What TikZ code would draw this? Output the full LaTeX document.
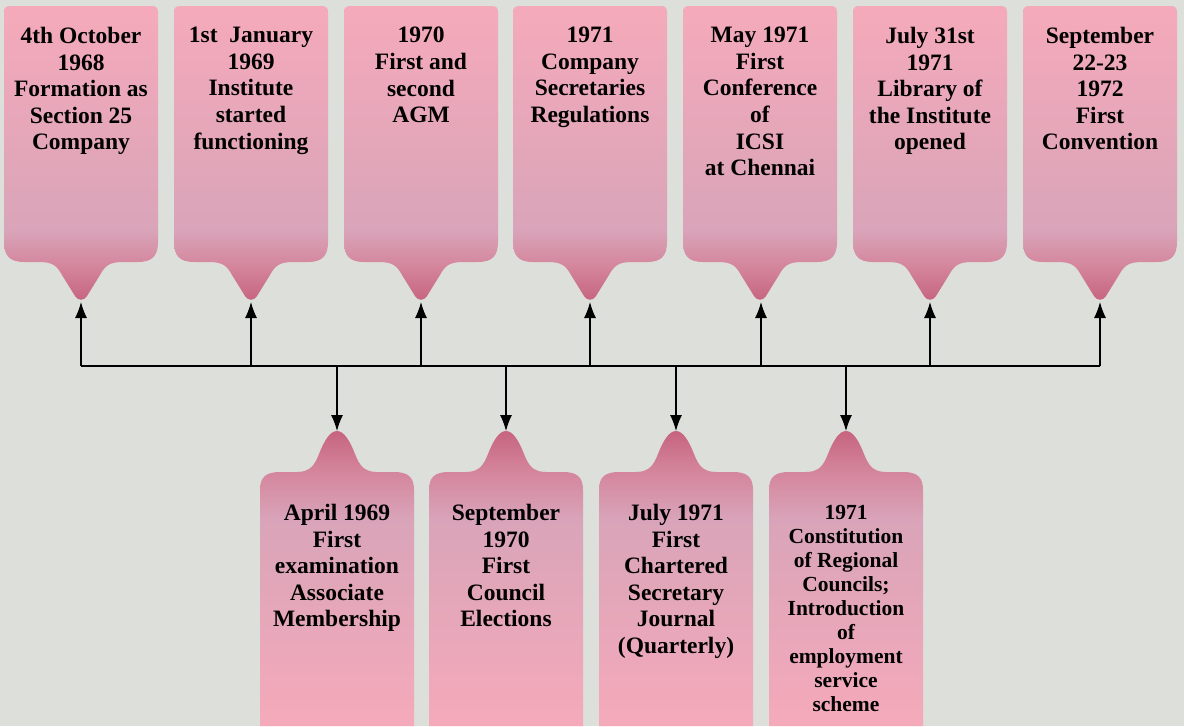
\documentclass[tikz,border=0pt]{standalone}
\usepackage{fontspec}
\setmainfont{Liberation Serif}
\usetikzlibrary{arrows.meta}

\definecolor{paper}{RGB}{220,223,218}
\definecolor{pinktop}{RGB}{245,170,186}
\definecolor{mauve}{RGB}{217,164,185}
\definecolor{rosemid}{RGB}{212,134,157}
\definecolor{tipdark}{RGB}{199,100,127}

\pgfdeclareverticalshading{topgrad}{100bp}{color(0bp)=(tipdark); color(25bp)=(tipdark); color(31bp)=(rosemid); color(37bp)=(mauve); color(75bp)=(pinktop); color(100bp)=(pinktop)}
\pgfdeclareverticalshading{botgrad}{100bp}{color(0bp)=(pinktop); color(25bp)=(pinktop); color(60bp)=(mauve); color(68bp)=(rosemid); color(75bp)=(tipdark); color(100bp)=(tipdark)}

\tikzset{
  topcallout/.style={shading=topgrad, insert path={
    (-71,6) -- (71,6) .. controls (75,6) and (77,8) .. (77,12) -- (77,242)
    .. controls (77,256) and (71,262) .. (57,262) -- (42,262)
    .. controls (28,262) and (24,266) .. (19,275) -- (6,296)
    .. controls (3,301) and (-3,301) .. (-6,296) -- (-19,275)
    .. controls (-24,266) and (-28,262) .. (-42,262)
    -- (-57,262) .. controls (-71,262) and (-77,256) .. (-77,242) -- (-77,12)
    .. controls (-77,8) and (-75,6) .. (-71,6) -- cycle}},
  botcallout/.style={shading=botgrad, insert path={
    (-77,726) -- (-77,490) .. controls (-77,477) and (-71,472) .. (-57,472) -- (-40,472)
    .. controls (-26,472) and (-22,464) .. (-18,454)
    .. controls (-13,441) and (-7,431) .. (0,431)
    .. controls (7,431) and (13,441) .. (18,454)
    .. controls (22,464) and (26,472) .. (40,472)
    -- (57,472) .. controls (71,472) and (77,477) .. (77,490) -- (77,726) -- cycle}},
  evtext/.style={anchor=north, align=center, inner sep=0pt,
    font=\fontsize{23.5}{26.6}\selectfont\bfseries},
  link/.style={line width=1.2pt},
  arr/.style={line width=1.2pt, -{Latex[length=16pt,width=12pt]}}
}

\begin{document}
\begin{tikzpicture}[x=1pt,y=-1pt]
\fill[paper] (0,0) rectangle (1184,726);
\useasboundingbox (0,0) rectangle (1184,726);

% top row
\shade[shift={(81,0)},topcallout];
\shade[shift={(251,0)},topcallout];
\shade[shift={(421,0)},topcallout];
\shade[shift={(590,0)},topcallout];
\shade[shift={(760,0)},topcallout];
\shade[shift={(930,0)},topcallout];
\shade[shift={(1100,0)},topcallout];

\node[evtext] (top1) at (81,27) {4th October\\1968\\Formation as\\Section 25\\Company};
\node[evtext] (top2) at (251,27) {1st~ January\\1969\\Institute\\started\\functioning};
\node[evtext] (top3) at (421,27) {1970\\First and\\second\\AGM};
\node[evtext] (top4) at (590,27) {1971\\Company\\Secretaries\\Regulations};
\node[evtext] (top5) at (760,27) {May 1971\\First\\Conference\\of\\ICSI\\at Chennai};
\node[evtext] (top6) at (930,27) {July 31st\\1971\\Library of\\the Institute\\opened};
\node[evtext] (top7) at (1100,27) {September\\22-23\\1972\\First\\Convention};

%-------------------------------------
% bottom row
\shade[shift={(337,0)},botcallout];
\shade[shift={(506,0)},botcallout];
\shade[shift={(676,0)},botcallout];
\shade[shift={(846,0)},botcallout];

\node[evtext] (bot1) at (337,504) {April 1969\\First\\examination\\Associate\\Membership};
\node[evtext] (bot2) at (506,504) {September\\1970\\First\\Council\\Elections};
\node[evtext] (bot3) at (676,504) {July 1971\\First\\Chartered\\Secretary\\Journal\\(Quarterly)};
\node[evtext,font=\fontsize{21.5}{24}\selectfont\bfseries] (bot4) at (846,505) {1971\\Constitution\\of Regional\\Councils;\\Introduction\\of\\employment\\service\\scheme};

%-------------------------------------
% timeline
\coordinate (tip1) at (81,302);
\coordinate (tip2) at (251,302);
\coordinate (tip3) at (421,302);
\coordinate (tip4) at (590,302);
\coordinate (tip5) at (761,302);
\coordinate (tip6) at (930,302);
\coordinate (tip7) at (1100,302);
\coordinate (j1) at (81,366);
\coordinate (j2) at (251,366);
\coordinate (j3) at (421,366);
\coordinate (j4) at (590,366);
\coordinate (j5) at (761,366);
\coordinate (j6) at (930,366);
\coordinate (j7) at (1100,366);

\coordinate (k1) at (337,366);
\coordinate (k2) at (506,366);
\coordinate (k3) at (676,366);
\coordinate (k4) at (846,366);
\coordinate (btip1) at (337,431);
\coordinate (btip2) at (506,431);
\coordinate (btip3) at (676,431);
\coordinate (btip4) at (846,431);

\draw[link] (j1) -- (j7);

\draw[arr] (j1) -- (tip1);
\draw[arr] (j2) -- (tip2);
\draw[arr] (j3) -- (tip3);
\draw[arr] (j4) -- (tip4);
\draw[arr] (j5) -- (tip5);
\draw[arr] (j6) -- (tip6);
\draw[arr] (j7) -- (tip7);

\draw[arr] (k1) -- (btip1);
\draw[arr] (k2) -- (btip2);
\draw[arr] (k3) -- (btip3);
\draw[arr] (k4) -- (btip4);
\end{tikzpicture}
\end{document}
